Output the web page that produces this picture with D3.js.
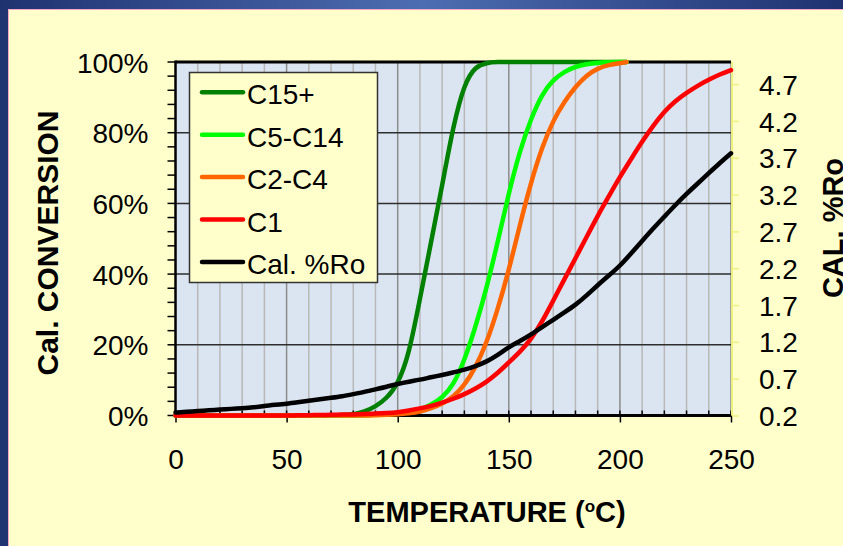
<!DOCTYPE html>
<meta charset="utf-8">
<style>
body { margin: 0; }
svg { display: block; font-family: "Liberation Sans", Arial, sans-serif; }
.tick text { font-size: 28px; fill: #000; }
.title { font-size: 29px; font-weight: bold; }
</style>
<svg width="843" height="546"></svg>
<script src="https://d3js.org/d3.v7.min.js"></script>
<script>

// temperature grid (deg C)
var temps = [0,5,10,15,20,25,30,35,40,45,50,55,60,65,70,75,80,85,90,95,100,
  105,110,115,120,125,130,135,140,145,150,155,160,165,170,175,180,185,190,195,200,
  205,210,215,220,225,230,235,240,245,250];
var tempsHC = [0,5,10,15,20,25,30,35,40,45,50,55,60,65,70,75,80,85,90,95,100,
  105,110,115,120,125,130,135,140,145,150,155,160,165,170,175,180,185,190,195,200,203];

// conversion, %
var c15 = [0,0,0,0,0,0,0,0,0,0,0,0,0,0,0.05,0.1,0.3,1,2.5,4.8,8.8,
  17,33,49,65,82,94,98.8,99.8,100,100,100,100,100,100,100,100,100,100,100,100,100];
var c5c14 = [0,0,0,0,0,0,0,0,0,0,0,0,0,0,0,0,0,0.1,0.2,0.3,0.5,
  0.9,1.6,3,5,8.5,15.5,25,36,49,63,75,84,91,95,97.3,98.7,99.4,99.8,99.9,100,100];
var c2c4 = [0,0,0,0,0,0,0,0,0,0,0,0,0,0,0,0,0,0,0.1,0.2,0.3,
  0.6,1,2,3.3,5.2,8.5,13.5,20.5,30,41,54,66,76,83.5,88.8,93,96.3,98.2,99.2,99.7,100];
var c1 = [0,0,0,0,0,0,0,0,0,0,0,0.05,0.1,0.15,0.2,0.25,0.3,0.4,0.55,0.7,0.9,
  1.4,2,2.7,3.6,4.7,6,7.6,9.5,12,15,18,21.5,26.5,32.5,38.5,44.5,50.5,56.5,62,67.5,
  72.5,77.5,82,86,89,91.3,93.3,95,96.5,97.7];
// calculated vitrinite reflectance, %Ro
var ro = [0.24,0.25,0.26,0.27,0.28,0.29,0.30,0.31,0.33,0.345,0.36,0.38,0.40,0.42,0.44,0.46,0.49,0.52,0.555,0.59,0.63,
  0.66,0.685,0.72,0.75,0.785,0.82,0.87,0.93,1.02,1.13,1.21,1.30,1.40,1.50,1.60,1.70,1.83,1.97,2.10,2.23,
  2.40,2.57,2.74,2.90,3.06,3.21,3.35,3.49,3.63,3.76];

var seriesNames = ["C15+", "C5-C14", "C2-C4", "C1", "Cal. %Ro"];
var seriesColors = ["#008000", "#00ff00", "#ff6600", "#ff0000", "#000000"];

var xTicks = [0, 50, 100, 150, 200, 250];
var yTicks = [0, 20, 40, 60, 80, 100];
var y2Ticks = [0.2, 0.7, 1.2, 1.7, 2.2, 2.7, 3.2, 3.7, 4.2, 4.7];

var svg = d3.select("svg");

var pLeft = 175.5, pRight = 731, pTop = 62, pBottom = 415.5;

var x = d3.scaleLinear().domain([0, 250]).range([pLeft, pRight]);
var y = d3.scaleLinear().domain([0, 100]).range([pBottom, pTop]);
var y2 = d3.scaleLinear().domain([0.2, 5.0]).range([pBottom, pTop]);

// background frame
var defs = svg.append("defs");
var grad = defs.append("linearGradient").attr("id", "topband");
grad.append("stop").attr("offset", "0%").attr("stop-color", "#1f3270");
grad.append("stop").attr("offset", "50%").attr("stop-color", "#4d6db2");
grad.append("stop").attr("offset", "100%").attr("stop-color", "#1f3270");

svg.append("rect").attr("width", 843).attr("height", 546).attr("fill", "#1f3470");
svg.append("rect").attr("width", 843).attr("height", 10).attr("fill", "url(#topband)");
svg.append("rect").attr("x", 8.5).attr("y", 9.5).attr("width", 840).attr("height", 540)
    .attr("fill", "#ffffcc").attr("stroke", "#f4a8c8").attr("stroke-width", 1);

// plot area
svg.append("rect")
    .attr("x", pLeft).attr("y", pTop)
    .attr("width", pRight - pLeft).attr("height", pBottom - pTop)
    .attr("fill", "#dbe5f1");

// vertical gridlines every 10
var grid = svg.append("g");
grid.selectAll("line.v")
  .data(d3.range(10, 251, 10))
  .enter().append("line")
    .attr("x1", function(d) { return x(d); })
    .attr("x2", function(d) { return x(d); })
    .attr("y1", pTop).attr("y2", pBottom)
    .attr("stroke", function(d) { return d % 50 == 0 ? "#8c8c8c" : "#b8b8b8"; })
    .attr("stroke-width", 1.5);

// horizontal gridlines
grid.selectAll("line.h")
  .data([20, 40, 60, 80])
  .enter().append("line")
    .attr("x1", pLeft).attr("x2", pRight)
    .attr("y1", function(d) { return y(d); })
    .attr("y2", function(d) { return y(d); })
    .attr("stroke", "#2e2e2e")
    .attr("stroke-width", 1.5);

svg.append("line")
    .attr("x1", pLeft).attr("x2", pRight)
    .attr("y1", pTop).attr("y2", pTop)
    .attr("stroke", "#000").attr("stroke-width", 3);

// left axis
var yAxis = svg.append("g")
    .attr("transform", "translate(" + pLeft + ",0)")
    .call(d3.axisLeft(y).tickValues(yTicks).tickSize(0).tickPadding(27)
      .tickFormat(function(d) { return d + "%"; }));
yAxis.select(".domain").remove();
yAxis.selectAll(".tick text").attr("dy", "0.36em");
svg.append("g").selectAll("line")
  .data(d3.range(0, 101, 4))
  .enter().append("line")
    .attr("x1", pLeft - 8).attr("x2", pLeft)
    .attr("y1", function(d) { return y(d); })
    .attr("y2", function(d) { return y(d); })
    .attr("stroke", "#000").attr("stroke-width", 1.5);
svg.append("line")
    .attr("x1", pLeft).attr("x2", pLeft).attr("y1", pTop - 1.5).attr("y2", pBottom + 1)
    .attr("stroke", "#000").attr("stroke-width", 2.5);

// bottom axis
var xAxis = svg.append("g")
    .attr("transform", "translate(0," + pBottom + ")")
    .call(d3.axisBottom(x).tickValues(xTicks).tickSize(7).tickPadding(30));
xAxis.select(".domain").remove();
xAxis.selectAll(".tick line").attr("stroke", "#000").attr("stroke-width", 1.5);
xAxis.selectAll(".tick text").attr("dy", "0.6em");
svg.append("g").selectAll("line")
  .data(d3.range(10, 251, 10))
  .enter().append("line")
    .attr("x1", function(d) { return x(d); })
    .attr("x2", function(d) { return x(d); })
    .attr("y1", pBottom - 5).attr("y2", pBottom)
    .attr("stroke", "#000").attr("stroke-width", 1.5);
svg.append("line")
    .attr("x1", pLeft).attr("x2", pRight).attr("y1", pBottom).attr("y2", pBottom)
    .attr("stroke", "#000").attr("stroke-width", 3);

// right axis
var y2Axis = svg.append("g")
    .attr("transform", "translate(" + (pRight + 1) + ",0)")
    .call(d3.axisRight(y2).tickValues(y2Ticks).tickSize(7).tickPadding(20)
      .tickFormat(d3.format(".1f")));
y2Axis.select(".domain").attr("stroke", "#f0f080").attr("stroke-width", 2)
    .attr("d", "M0," + pTop + "V" + pBottom);
y2Axis.selectAll(".tick line").attr("stroke", "#f0f080").attr("stroke-width", 1.5);
y2Axis.selectAll(".tick text").attr("dy", "0.36em");

// curves
var line = d3.line()
    .x(function(d) { return x(d[0]); })
    .y(function(d) { return d[2] ? y2(d[1]) : y(d[1]); })
    .curve(d3.curveBasis);

var series = [
  d3.zip(tempsHC, c15),
  d3.zip(tempsHC, c5c14),
  d3.zip(tempsHC, c2c4),
  d3.zip(temps, c1),
  d3.zip(temps, ro).map(function(p) { return [p[0], p[1], true]; })
];

svg.append("g").selectAll("path")
  .data(series)
  .enter().append("path")
    .attr("d", line)
    .attr("fill", "none")
    .attr("stroke", function(d, i) { return seriesColors[i]; })
    .attr("stroke-width", 4.5)
    .attr("stroke-linecap", "round")
    .attr("stroke-linejoin", "round");

// legend
var legend = svg.append("g");
legend.append("rect")
    .attr("x", 189.5).attr("y", 72.5).attr("width", 188).attr("height", 210)
    .attr("fill", "#ffffcc").attr("stroke", "#333").attr("stroke-width", 1.5);
var item = legend.selectAll("g.item")
  .data(seriesNames)
  .enter().append("g")
    .attr("transform", function(d, i) { return "translate(0," + (92.3 + i * 42.4) + ")"; });
item.append("line")
    .attr("x1", 202).attr("x2", 243)
    .attr("stroke", function(d, i) { return seriesColors[i]; })
    .attr("stroke-width", 4.5).attr("stroke-linecap", "round");
item.append("text")
    .attr("x", 247).attr("y", 12)
    .style("font-size", "28px")
    .text(function(d) { return d; });

// axis titles
svg.append("text")
    .attr("class", "title")
    .attr("transform", "translate(58,243) rotate(-90)")
    .attr("text-anchor", "middle")
    .style("font-size", "30px")
    .text("Cal. CONVERSION");

svg.append("text")
    .attr("class", "title")
    .attr("transform", "translate(843,228) rotate(-90)")
    .attr("text-anchor", "middle")
    .text("CAL. %Ro");

var xt = svg.append("text")
    .attr("class", "title")
    .attr("x", 487).attr("y", 522)
    .attr("text-anchor", "middle");
xt.append("tspan").text("TEMPERATURE (");
xt.append("tspan").attr("font-size", "17px").attr("dy", -10).text("o");
xt.append("tspan").attr("dy", 10).text("C)");

</script>
